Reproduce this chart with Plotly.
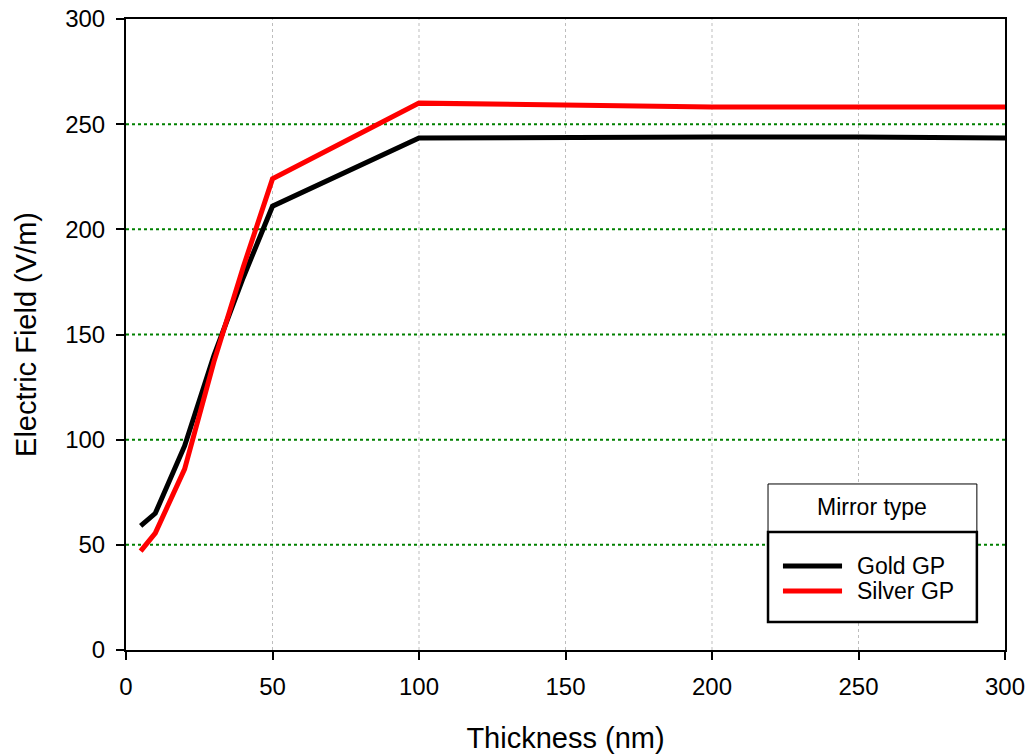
import plotly.graph_objects as go

# Electric field vs. ground-plane thickness for two mirror metals
thickness = [5, 10, 20, 30, 40, 50, 100, 150, 200, 250, 300]
gold_field = [59, 65, 97, 140, 177, 211, 243.4, 243.9, 243.9, 243.9, 243.4]
silver_field = [47, 55.6, 86, 137, 182, 224, 260, 259.1, 258.2, 258.2, 258.2]

series_names = ["Gold GP", "Silver GP"]
series_colors = ["#000000", "#ff0000"]
legend_title = "Mirror type"

x_ticks = [0, 50, 100, 150, 200, 250, 300]
y_ticks = [0, 50, 100, 150, 200, 250, 300]

FONT = "Liberation Sans, Arial, sans-serif"

fig = go.Figure()
for ys, name, color in zip([gold_field, silver_field], series_names, series_colors):
    fig.add_trace(go.Scatter(
        x=thickness, y=ys, mode="lines", name=name,
        line=dict(color=color, width=5), showlegend=False,
    ))

# dotted grid: grey verticals, green horizontals
for xv in x_ticks[1:-1]:
    fig.add_shape(type="line", xref="x", yref="paper", x0=xv, x1=xv, y0=0, y1=1,
                  line=dict(color="#bdbdbd", width=1, dash="dot"), layer="below")
for yv in y_ticks[1:-1]:
    fig.add_shape(type="line", xref="paper", yref="y", x0=0, x1=1, y0=yv, y1=yv,
                  line=dict(color="#008000", width=2, dash="dot"), layer="below")

# legend drawn as boxed key with separate title cell
lx0, lx1 = 0.7304, 0.968
fig.add_shape(type="rect", xref="paper", yref="paper", x0=lx0, x1=lx1, y0=0.187, y1=0.2631,
              line=dict(color="#000000", width=1), fillcolor="white")
fig.add_shape(type="rect", xref="paper", yref="paper", x0=lx0, x1=lx1, y0=0.0444, y1=0.187,
              line=dict(color="#000000", width=2.5), fillcolor="white")
fig.add_annotation(xref="paper", yref="paper", x=(lx0 + lx1) / 2, y=0.227, text=legend_title,
                   showarrow=False, xanchor="center", yanchor="middle",
                   font=dict(family=FONT, size=23, color="#000000"))
for i, (name, color) in enumerate(zip(series_names, series_colors)):
    yk = 0.1331 - i * 0.0396
    fig.add_shape(type="line", xref="paper", yref="paper", x0=0.7474, x1=0.8146, y0=yk, y1=yk,
                  line=dict(color=color, width=5))
    fig.add_annotation(xref="paper", yref="paper", x=0.829, y=yk, text=name, showarrow=False,
                       xanchor="left", yanchor="middle",
                       font=dict(family=FONT, size=23, color="#000000"))

axis_common = dict(
    showline=True, linecolor="#000000", linewidth=2, mirror=True,
    ticks="outside", ticklen=8, tickwidth=2, tickcolor="#000000",
    showgrid=False, zeroline=False, automargin=False,
    tickfont=dict(family=FONT, size=24, color="#000000"),
)

fig.update_layout(
    width=1029, height=755,
    margin=dict(l=126, r=24, t=19, b=105),
    paper_bgcolor="white", plot_bgcolor="white",
    xaxis=dict(range=[0, 300], tickvals=x_ticks, ticklabelstandoff=6,
               title=dict(text="Thickness (nm)", font=dict(family=FONT, size=29, color="#000000"),
                          standoff=29),
               **axis_common),
    yaxis=dict(range=[0, 300], tickvals=y_ticks, ticklabelstandoff=6,
               title=dict(text="Electric Field (V/m)", font=dict(family=FONT, size=29, color="#000000"),
                          standoff=20),
               **axis_common),
)

fig.write_html("out.html")
